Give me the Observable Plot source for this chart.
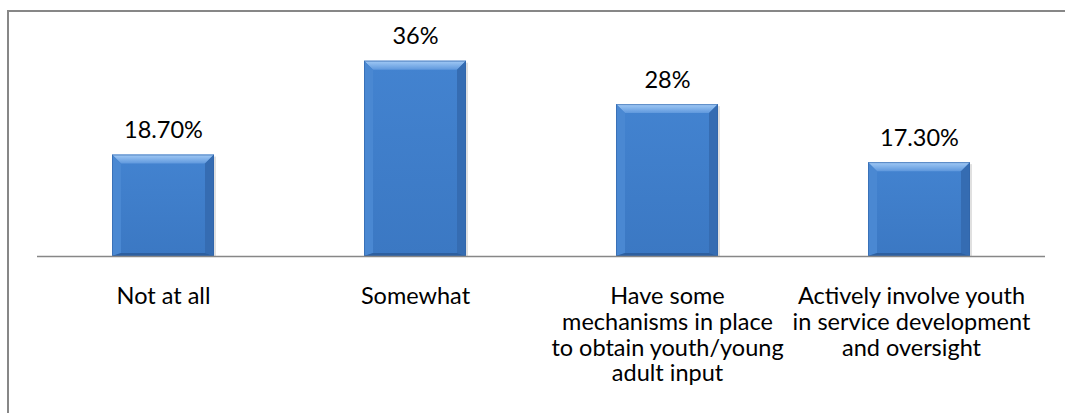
<!DOCTYPE html>
<html>
<head>
<meta charset="utf-8">
<script src="https://cdn.jsdelivr.net/npm/d3@7"></script>
<script src="https://cdn.jsdelivr.net/npm/@observablehq/plot@0.6"></script>
<style>
  html, body { margin: 0; padding: 0; background: #fff; overflow: hidden; width: 1065px; height: 413px; }
  #frame { position: absolute; left: 7px; top: 10px; width: 1058px; height: 403px; box-sizing: border-box;
           border-top: 2px solid #878787; border-left: 2px solid #878787; }
  #chart { position: absolute; left: 0; top: 0; }
</style>
</head>
<body>
<div id="frame"></div>
<div id="chart"></div>
<script>
const categories = ["Not at all", "Somewhat", "Have some mechanisms", "Actively involve youth"];
const values = [18.7, 36, 28, 17.3];
const valueLabels = ["18.70%", "36%", "28%", "17.30%"];
const tickLabels = [
  "Not at all",
  "Somewhat",
  "Have some\nmechanisms in place\nto obtain youth/young\nadult input",
  "Actively involve youth\nin service development\nand oversight"
];

const data = categories.map((c, i) => ({cat: c, value: values[i], label: valueLabels[i], tick: tickLabels[i]}));

function bevel(index, scales, vals, dimensions, context, next) {
  const g = next(index, scales, vals, dimensions, context);
  const sel = d3.select(g);
  const rects = sel.selectAll("rect").nodes();
  const svgNS = "http://www.w3.org/2000/svg";
  const defs = document.createElementNS(svgNS, "defs");
  defs.innerHTML = `
    <linearGradient id="topBev" x1="0" y1="0" x2="0" y2="1">
      <stop offset="0" stop-color="#a3cbf6"/>
      <stop offset="1" stop-color="#5f98dd"/>
    </linearGradient>
    <linearGradient id="face" x1="0" y1="0" x2="0" y2="1">
      <stop offset="0" stop-color="#4383d0"/>
      <stop offset="1" stop-color="#3b78c3"/>
    </linearGradient>`;
  g.insertBefore(defs, g.firstChild);
  for (const r of rects) {
    const x = +r.getAttribute("x"), y = +r.getAttribute("y");
    const w = +r.getAttribute("width"), h = +r.getAttribute("height");
    r.setAttribute("fill", "url(#face)");
    const b = 9, bb = 3;
    const polys = [
      {pts: [[x, y], [x + w, y], [x + w - b, y + b], [x + b, y + b]], fill: "url(#topBev)"},
      {pts: [[x, y], [x + b, y + b], [x + b, y + h - bb], [x, y + h]], fill: "#4a88d2"},
      {pts: [[x + w, y], [x + w - b, y + b], [x + w - b, y + h - bb], [x + w, y + h]], fill: "#356cb2"},
      {pts: [[x, y + h], [x + b, y + h - bb], [x + w - b, y + h - bb], [x + w, y + h]], fill: "#2d5f9f"}
    ];
    const sh = document.createElementNS(svgNS, "rect");
    sh.setAttribute("x", x + 2); sh.setAttribute("y", y + 2);
    sh.setAttribute("width", w); sh.setAttribute("height", h - 2);
    sh.setAttribute("fill", "#000"); sh.setAttribute("fill-opacity", 0.12);
    r.parentNode.insertBefore(sh, r);
    for (const p of polys) {
      const el = document.createElementNS(svgNS, "polygon");
      el.setAttribute("points", p.pts.map(d => d.join(",")).join(" "));
      el.setAttribute("fill", p.fill);
      r.parentNode.appendChild(el);
    }
    const ol = document.createElementNS(svgNS, "rect");
    ol.setAttribute("x", x + 0.5); ol.setAttribute("y", y + 0.5);
    ol.setAttribute("width", w - 1); ol.setAttribute("height", h - 1);
    ol.setAttribute("fill", "none"); ol.setAttribute("stroke", "#2f62a6"); ol.setAttribute("stroke-opacity", 0.6);
    r.parentNode.appendChild(ol);
  }
  return g;
}

const fs = 23.5;
const chart = Plot.plot({
  width: 1065,
  height: 413,
  marginLeft: 37,
  marginRight: 20,
  marginTop: 39,
  marginBottom: 157,
  style: {fontFamily: "Lato", background: "transparent", color: "#000"},
  x: {domain: categories, paddingInner: 0.595, paddingOuter: 0.2975, axis: null},
  y: {domain: [0, 40], axis: null},
  marks: [
    Plot.barY(data, {x: "cat", y: "value", fill: "#3c7bc7", render: bevel}),
    Plot.ruleY([0], {stroke: "#878787", strokeWidth: 1.6}),
    Plot.text(data, {x: "cat", y: "value", text: "label", dy: -17, lineAnchor: "bottom", fontSize: fs, fill: "#000"}),
    Plot.text(data.slice(0, 3), {x: "cat", text: "tick", frameAnchor: "bottom", lineAnchor: "top", dy: 29, fontSize: fs, lineHeight: 1.1, fill: "#000"}),
    Plot.text(data.slice(3), {x: "cat", text: "tick", frameAnchor: "bottom", lineAnchor: "top", dy: 29, dx: -8, fontSize: fs, lineHeight: 1.1, fill: "#000"})
  ]
});
document.getElementById("chart").appendChild(chart);
</script>
</body>
</html>
